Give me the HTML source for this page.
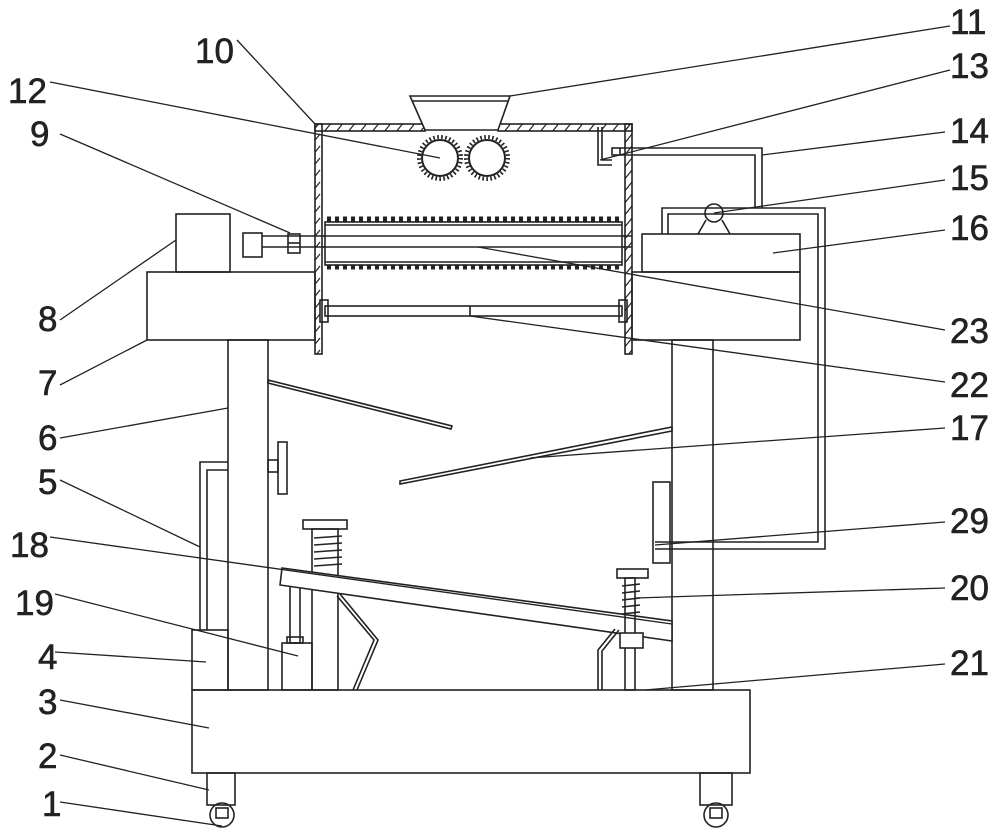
<!DOCTYPE html>
<html><head><meta charset="utf-8"><style>html,body{margin:0;padding:0;background:#fff}svg{display:block}</style></head><body>
<svg width="1000" height="840" viewBox="0 0 1000 840" xmlns="http://www.w3.org/2000/svg" fill="none" stroke="#222" stroke-width="1.6">
<defs>
<pattern id="h" width="12" height="12" patternUnits="userSpaceOnUse"><line x1="0" y1="12" x2="8" y2="2" stroke="#222" stroke-width="1.2"/></pattern>
</defs>
<rect x="192" y="690" width="558" height="83"/>
<rect x="207" y="773" width="28" height="32"/>
<circle cx="222" cy="815" r="12"/><rect x="216" y="808" width="12" height="10"/>
<rect x="700" y="773" width="32" height="32"/>
<circle cx="716" cy="815" r="12"/><rect x="710" y="808" width="12" height="10"/>
<rect x="228" y="340" width="40" height="350"/>
<rect x="672" y="340" width="41" height="350"/>
<rect x="147" y="272" width="168" height="68"/>
<rect x="176" y="214" width="54" height="58"/>
<rect x="243" y="233" width="19" height="24"/>
<line x1="262" y1="236" x2="632" y2="236"/><line x1="262" y1="247" x2="632" y2="247"/>
<rect x="288" y="234" width="12" height="19"/><line x1="288" y1="243" x2="300" y2="243"/>
<rect x="315" y="124" width="7" height="230" fill="url(#h)"/>
<rect x="625" y="124" width="7" height="230" fill="url(#h)"/>
<rect x="315" y="124" width="110" height="7" fill="url(#h)"/>
<rect x="498" y="124" width="134" height="7" fill="url(#h)"/>
<polygon points="410,96 510,96 498,130 425,130" fill="#fff"/>
<line x1="412" y1="101" x2="508" y2="101"/>
<g stroke-width="4" stroke-dasharray="1.6 2.4"><circle cx="440" cy="158" r="21"/><circle cx="487" cy="158" r="21"/></g>
<circle cx="440" cy="158" r="18" fill="#fff" stroke-width="2"/><circle cx="487" cy="158" r="18" fill="#fff" stroke-width="2"/>
<g stroke-width="5" stroke-dasharray="4 4"><line x1="327" y1="219" x2="622" y2="219"/><line x1="327" y1="267" x2="622" y2="267"/></g>
<rect x="325" y="222" width="297" height="43" fill="#fff"/>
<line x1="325" y1="225" x2="622" y2="225"/><line x1="325" y1="262" x2="622" y2="262"/>
<line x1="322" y1="236" x2="625" y2="236"/><line x1="322" y1="247" x2="625" y2="247"/>
<rect x="325" y="306" width="297" height="10"/>
<rect x="320" y="300" width="8" height="22"/><rect x="619" y="300" width="8" height="22"/>
<line x1="470" y1="306" x2="470" y2="316"/>
<polyline points="598,127 598,165 612,165"/><polyline points="602,127 602,160 612,160"/>
<rect x="612" y="148" width="8" height="7"/>
<polyline points="620,148 762,148 762,208"/><polyline points="620,155 755,155 755,208"/>
<rect x="642" y="234" width="158" height="38"/>
<rect x="632" y="272" width="168" height="68"/>
<circle cx="714" cy="213" r="9"/>
<polyline points="706,220 698,234"/><polyline points="722,220 730,234"/>
<polyline points="662,234 662,208 825,208 825,549 655,549"/>
<polyline points="668,234 668,214 818,214 818,542 655,542"/>
<polygon points="268,380 452,426 451,429 268,383"/>
<polygon points="400,481 672,427 672,431 400,484"/>
<rect x="278" y="442" width="9" height="52"/><rect x="268" y="460" width="10" height="12"/>
<polyline points="200,630 200,462 228,462"/><polyline points="207,630 207,470 228,470"/>
<rect x="192" y="630" width="36" height="60"/>
<rect x="653" y="482" width="17" height="81"/>
<rect x="303" y="520" width="44" height="9"/>
<rect x="312" y="529" width="26" height="161"/>
<g stroke-width="1.6"><path d="M314 538 L342 536 M314 545 L342 543 M314 552 L342 550 M314 559 L342 557 M314 566 L342 564"/></g>
<rect x="282" y="643" width="30" height="47"/>
<rect x="290" y="585" width="10" height="58"/><rect x="287" y="637" width="16" height="6"/>
<polygon points="282,568 672,621 672,641 280,585" fill="#fff"/>
<polyline points="340,594 378,640 357,690"/><polyline points="337,596 374,640 353,690"/>
<polyline points="619,630 602,651 602,690"/><polyline points="615,629 598,650 598,690"/>
<rect x="617" y="569" width="31" height="9"/>
<rect x="625" y="578" width="10" height="112"/>
<rect x="620" y="633" width="23" height="15" fill="#fff"/>
<g stroke-width="1.6"><path d="M622 586 L640 584 M622 593 L640 591 M622 600 L640 598 M622 607 L640 605 M622 614 L640 612"/></g>
<g stroke-width="1.3">
<line x1="237" y1="40" x2="315" y2="124"/>
<line x1="510" y1="96" x2="950" y2="26"/>
<line x1="50" y1="82" x2="440" y2="158"/>
<line x1="600" y1="160" x2="950" y2="70"/>
<line x1="60" y1="134" x2="290" y2="233"/>
<line x1="762" y1="155" x2="945" y2="132"/>
<line x1="714" y1="213" x2="945" y2="180"/>
<line x1="773" y1="253" x2="945" y2="230"/>
<line x1="60" y1="320" x2="176" y2="240"/>
<line x1="478" y1="247" x2="945" y2="330"/>
<line x1="60" y1="385" x2="147" y2="340"/>
<line x1="470" y1="316" x2="945" y2="382"/>
<line x1="60" y1="438" x2="228" y2="408"/>
<line x1="530" y1="458" x2="945" y2="428"/>
<line x1="60" y1="480" x2="200" y2="547"/>
<line x1="655" y1="545" x2="945" y2="522"/>
<line x1="50" y1="537" x2="672" y2="624"/>
<line x1="636" y1="598" x2="945" y2="588"/>
<line x1="55" y1="594" x2="298" y2="656"/>
<line x1="55" y1="652" x2="206" y2="662"/>
<line x1="645" y1="690" x2="945" y2="664"/>
<line x1="60" y1="700" x2="209" y2="728"/>
<line x1="60" y1="755" x2="209" y2="790"/>
<line x1="60" y1="802" x2="222" y2="826"/>
</g>
<g fill="#222" stroke="#222" stroke-width="0.6" font-family="Liberation Sans, sans-serif" font-size="35">
<text x="195" y="63">10</text>
<text x="950" y="34">11</text>
<text x="8" y="103">12</text>
<text x="950" y="78">13</text>
<text x="30" y="146">9</text>
<text x="950" y="143">14</text>
<text x="950" y="190">15</text>
<text x="950" y="240">16</text>
<text x="38" y="331">8</text>
<text x="950" y="343">23</text>
<text x="38" y="395">7</text>
<text x="950" y="397">22</text>
<text x="38" y="450">6</text>
<text x="950" y="440">17</text>
<text x="38" y="494">5</text>
<text x="950" y="533">29</text>
<text x="10" y="557">18</text>
<text x="950" y="600">20</text>
<text x="15" y="615">19</text>
<text x="38" y="669">4</text>
<text x="950" y="675">21</text>
<text x="38" y="714">3</text>
<text x="38" y="768">2</text>
<text x="42" y="816">1</text>
</g>
</svg>
</body></html>
